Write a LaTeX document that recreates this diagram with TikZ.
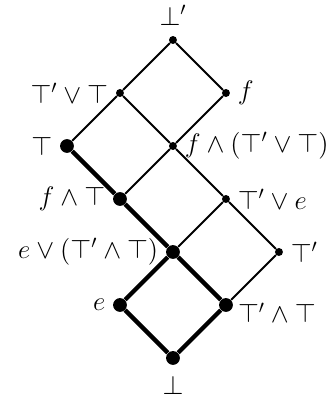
\documentclass[tikz,border=0pt]{standalone}
\usetikzlibrary{positioning}
\tikzset{
  pt/.style = {circle, fill=black, inner sep=0pt, minimum size=1.5mm},
  bpt/.style = {pt, minimum size=2.6mm},
  ed/.style = {draw=black, line width=1.1pt},
  bed/.style = {draw=black, line width=2.3pt},
  lab/.style = {font=\Large, inner sep=1pt}
}

\begin{document}
\begin{tikzpicture}
  \useasboundingbox (-3.264,-0.774) rectangle (3.019,6.755);
  % lattice points
  \node [bpt] (bot) at (0,0) {};
  \node [bpt] (e) at (-1,1) {};
  \node [bpt] (tt) at (1,1) {};
  \node [bpt] (ejt) at (0,2) {};
  \node [pt] (tp) at (2,2) {};
  \node [bpt] (ft) at (-1,3) {};
  \node [pt] (tpe) at (1,3) {};
  \node [bpt] (t) at (-2,4) {};
  \node [pt] (fjt) at (0,4) {};
  \node [pt] (tpt) at (-1,5) {};
  \node [pt] (f) at (1,5) {};
  \node [pt] (botp) at (0,6) {};
  % thin edges
  \draw [ed] (botp) -- (tpt);
  \draw [ed] (botp) -- (f);
  \draw [ed] (tpt) -- (t);
  \draw [ed] (tpt) -- (fjt);
  \draw [ed] (f) -- (fjt);
  \draw [ed] (fjt) -- (ft);
  \draw [ed] (fjt) -- (tpe);
  \draw [ed] (tpe) -- (ejt);
  \draw [ed] (tpe) -- (tp);
  \draw [ed] (tp) -- (tt);
  % thick edges
  \draw [bed] (t) -- (ft);
  \draw [bed] (ft) -- (ejt);
  \draw [bed] (ejt) -- (e);
  \draw [bed] (ejt) -- (tt);
  \draw [bed] (e) -- (bot);
  \draw [bed] (tt) -- (bot);
  % labels
  \node [lab, above=1.5mm of botp] {$\bot'$};
  \node [lab, left=1mm of tpt] {$\top'\vee\top$};
  \node [lab, right=1mm of f] {$f$};
  \node [lab, left=1mm of t] {$\top$};
  \node [lab, right=1mm of fjt] {$f\wedge(\top'\vee\top)$};
  \node [lab, left=1mm of ft] {$f\wedge\top$};
  \node [lab, right=1mm of tpe] {$\top'\vee e$};
  \node [lab, left=1mm of ejt] {$e\vee(\top'\wedge\top)$};
  \node [lab, right=1mm of tp] {$\top'$};
  \node [lab, left=1mm of e] {$e$};
  \node [lab, right=0.5mm of tt, yshift=-1.5mm] {$\top'\wedge\top$};
  \node [lab, below=1.5mm of bot] {$\bot$};
\end{tikzpicture}
\end{document}
